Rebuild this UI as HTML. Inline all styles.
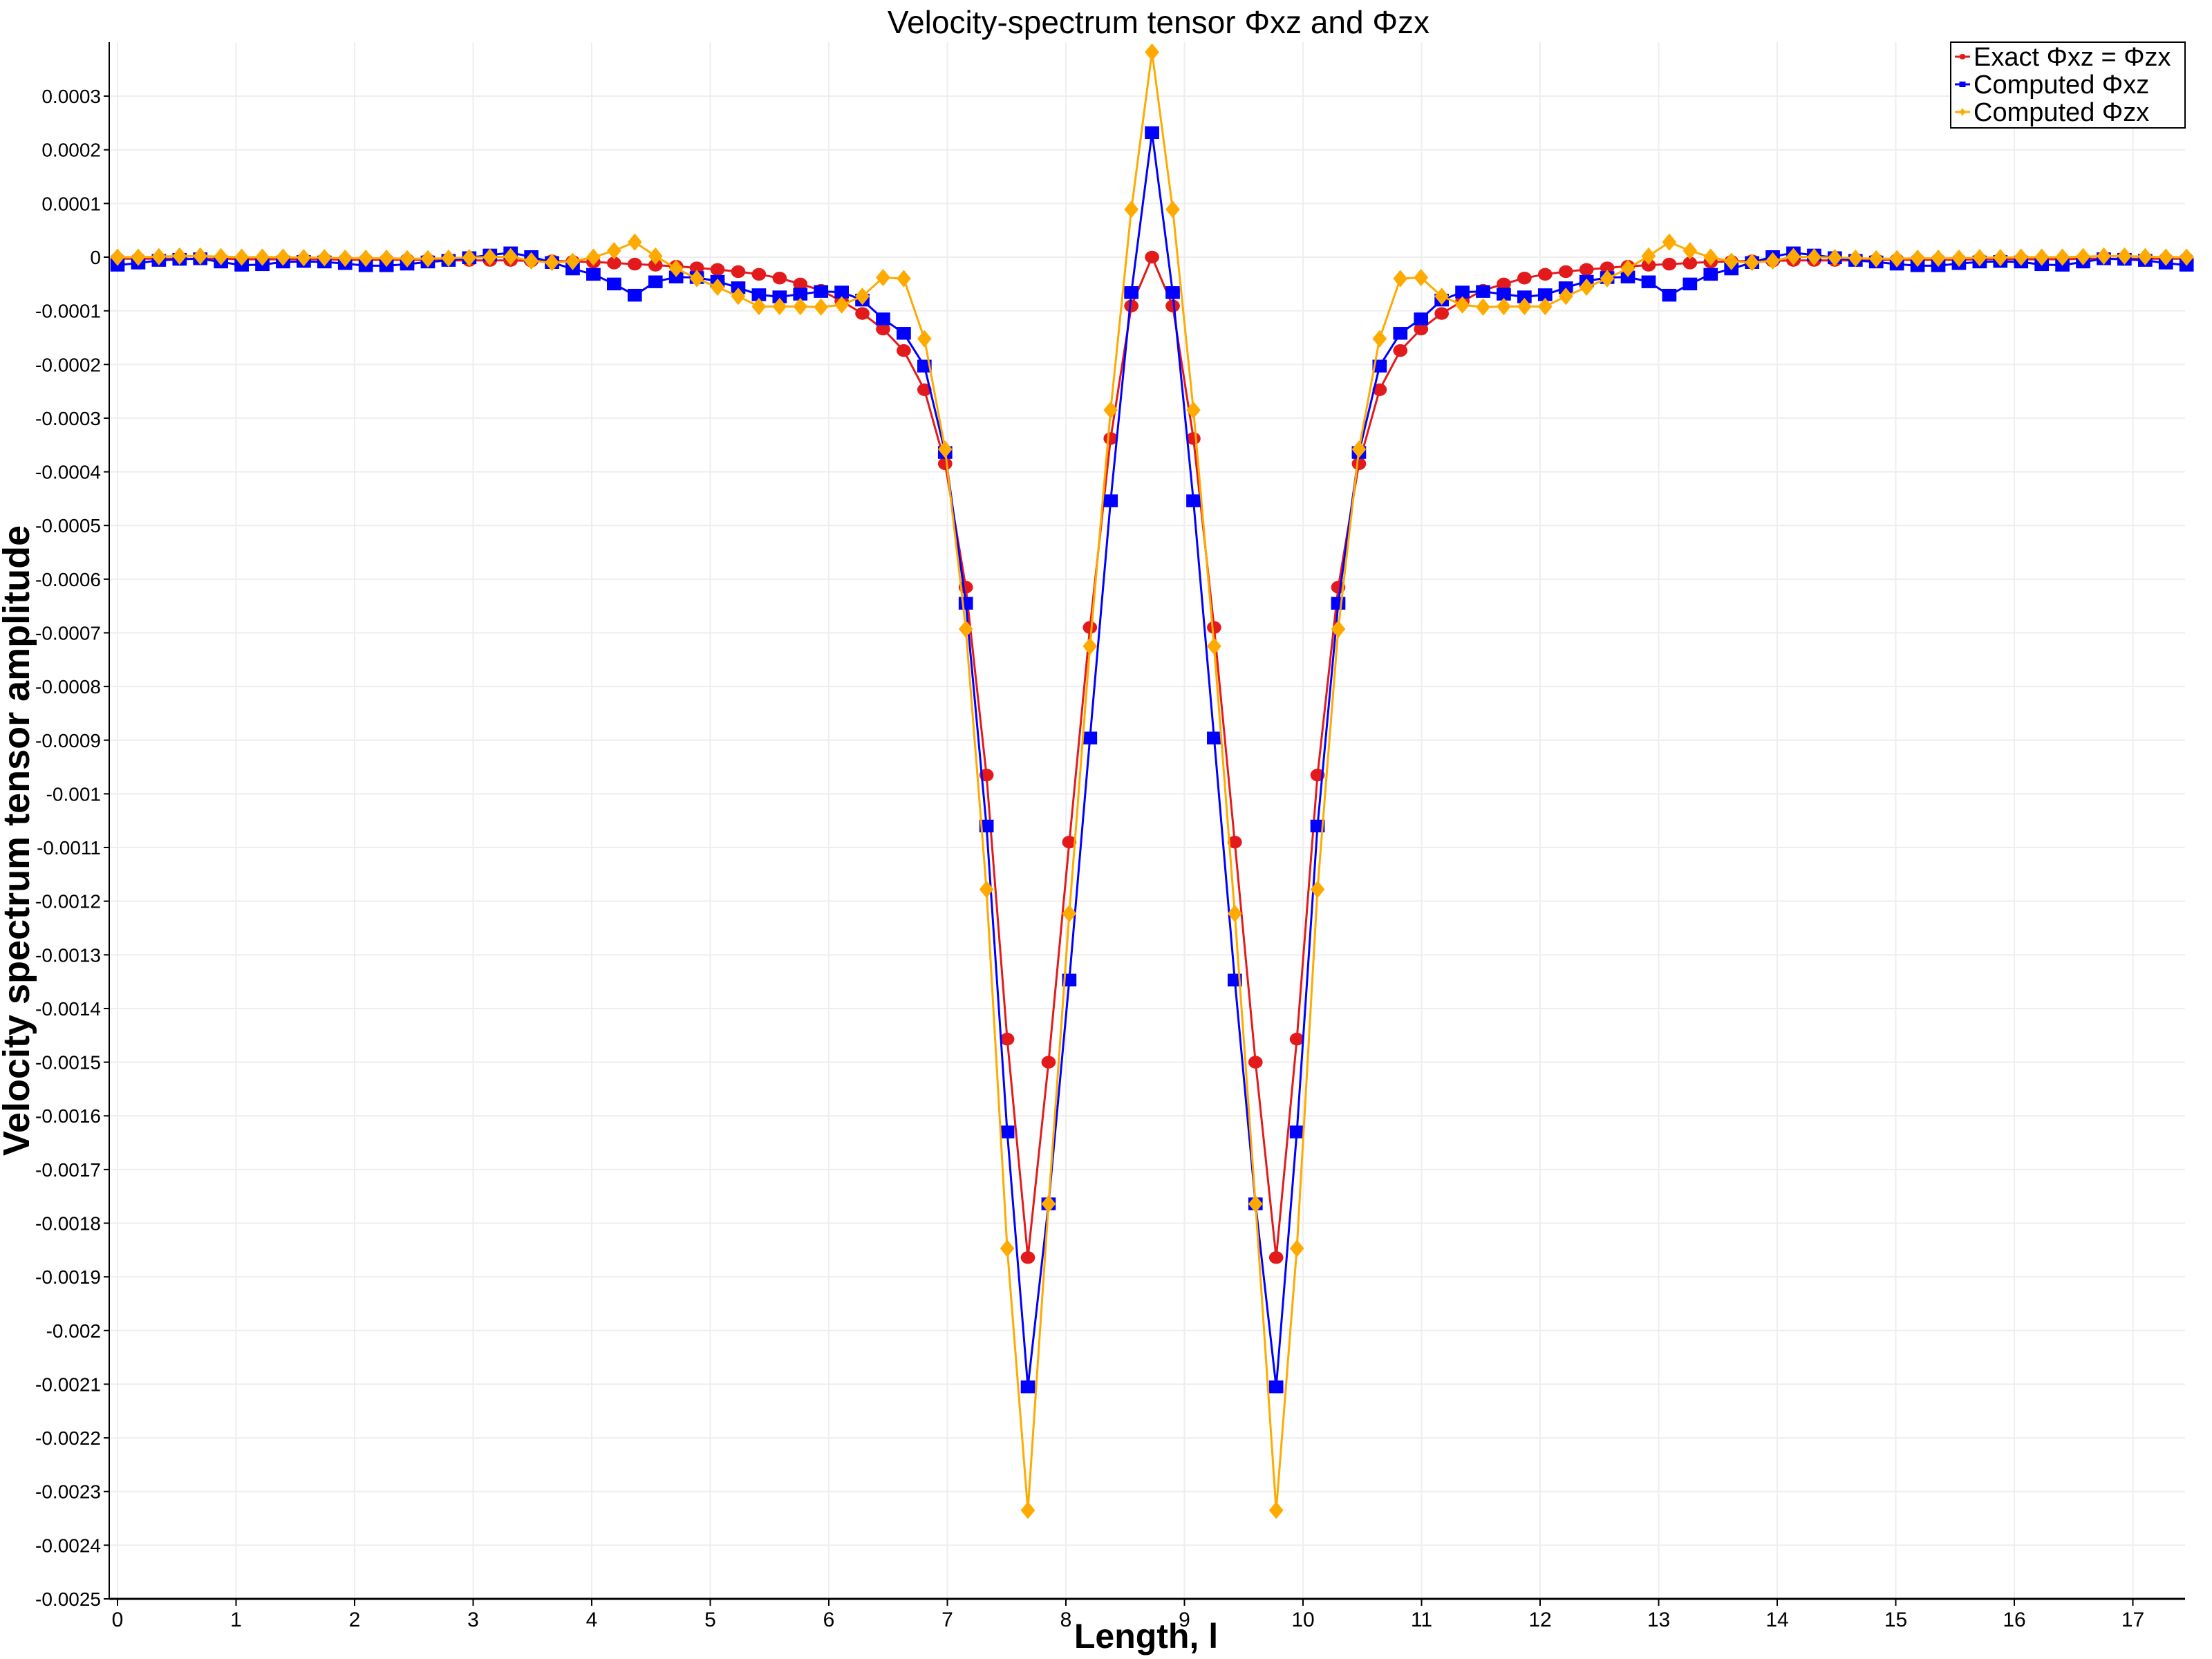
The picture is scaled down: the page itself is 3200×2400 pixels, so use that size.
<!DOCTYPE html>
<html><head><meta charset="utf-8"><style>
html,body{margin:0;padding:0;background:#fff;}
svg{display:block;font-family:"Liberation Sans",sans-serif;}
</style></head><body>
<svg id="chart" width="3200" height="2400" viewBox="0 0 3200 2400" xmlns="http://www.w3.org/2000/svg">
<rect width="3200" height="2400" fill="#fff"/>
<text x="1676" y="48" font-size="46" text-anchor="middle" fill="#000">Velocity-spectrum tensor Φxz and Φzx</text>
<text transform="translate(42,1216) rotate(-90)" font-size="54" font-weight="bold" text-anchor="middle" fill="#000">Velocity spectrum tensor amplitude</text>
<text x="1658" y="2384" font-size="50" font-weight="bold" text-anchor="middle" fill="#000">Length, l</text>
<g id="grid"></g>
<g id="axes"></g>
<g id="series"></g>
<g id="legend"></g>
</svg>
<script>
const xStep = 0.17453;
const xTicks = [0,1,2,3,4,5,6,7,8,9,10,11,12,13,14,15,16,17];
const yTicks = [0.0003,0.0002,0.0001,0,-0.0001,-0.0002,-0.0003,-0.0004,-0.0005,-0.0006,-0.0007,-0.0008,-0.0009,-0.001,-0.0011,-0.0012,-0.0013,-0.0014,-0.0015,-0.0016,-0.0017,-0.0018,-0.0019,-0.002,-0.0021,-0.0022,-0.0023,-0.0024,-0.0025];
const yTickLabels = ["0.0003","0.0002","0.0001","0","-0.0001","-0.0002","-0.0003","-0.0004","-0.0005","-0.0006","-0.0007","-0.0008","-0.0009","-0.001","-0.0011","-0.0012","-0.0013","-0.0014","-0.0015","-0.0016","-0.0017","-0.0018","-0.0019","-0.002","-0.0021","-0.0022","-0.0023","-0.0024","-0.0025"];
const exactVals = [-3e-6,-3e-6,-3e-6,-3e-6,-3e-6,-3e-6,-4e-6,-4e-6,-4e-6,-4e-6,-4e-6,-5e-6,-5e-6,-5e-6,-5e-6,-5e-6,-6e-6,-6e-6,-6e-6,-6e-6,-7e-6,-7e-6,-8e-6,-9e-6,-1.1e-5,-1.3e-5,-1.5e-5,-1.7e-5,-2e-5,-2.3e-5,-2.7e-5,-3.2e-5,-3.9e-5,-5e-5,-6.2e-5,-8.2e-5,-1.05e-4,-1.34e-4,-1.74e-4,-2.47e-4,-3.85e-4,-6.15e-4,-9.65e-4,-1.457e-3,-1.864e-3,-1.5e-3,-1.09e-3,-6.9e-4,-3.38e-4,-9.1e-5,0,
-9.1e-5,-3.38e-4,-6.9e-4,-1.09e-3,-1.5e-3,-1.864e-3,-1.457e-3,-9.65e-4,-6.15e-4,-3.85e-4,-2.47e-4,-1.74e-4,-1.34e-4,-1.05e-4,-8.2e-5,-6.2e-5,-5e-5,-3.9e-5,-3.2e-5,-2.7e-5,-2.3e-5,-2e-5,-1.7e-5,-1.5e-5,-1.3e-5,-1.1e-5,-9e-6,-8e-6,-7e-6,-7e-6,-6e-6,-6e-6,-6e-6,-6e-6,-5e-6,-5e-6,-5e-6,-5e-6,-5e-6,-4e-6,-4e-6,-4e-6,-4e-6,-4e-6,-3e-6,-3e-6,-3e-6,-3e-6,-3e-6,-3e-6];
const xzVals = [-1.5e-5,-1.1e-5,-6e-6,-4e-6,-3e-6,-9e-6,-1.5e-5,-1.4e-5,-9e-6,-8e-6,-9e-6,-1.2e-5,-1.6e-5,-1.6e-5,-1.3e-5,-9e-6,-6e-6,-1e-6,4e-6,8e-6,1e-6,-1e-5,-2.2e-5,-3.2e-5,-5e-5,-7.1e-5,-4.6e-5,-3.7e-5,-3.8e-5,-4.5e-5,-5.7e-5,-7e-5,-7.4e-5,-6.9e-5,-6.4e-5,-6.5e-5,-8e-5,-1.15e-4,-1.42e-4,-2.03e-4,-3.64e-4,-6.45e-4,-1.06e-3,-1.63e-3,-2.105e-3,-1.764e-3,-1.347e-3,-8.96e-4,-4.54e-4,-6.6e-5,2.32e-4,
-6.6e-5,-4.54e-4,-8.96e-4,-1.347e-3,-1.764e-3,-2.105e-3,-1.63e-3,-1.06e-3,-6.45e-4,-3.64e-4,-2.03e-4,-1.42e-4,-1.15e-4,-8e-5,-6.5e-5,-6.4e-5,-6.9e-5,-7.4e-5,-7e-5,-5.7e-5,-4.5e-5,-3.8e-5,-3.7e-5,-4.6e-5,-7.1e-5,-5e-5,-3.2e-5,-2.2e-5,-1e-5,1e-6,8e-6,4e-6,-1e-6,-6e-6,-9e-6,-1.3e-5,-1.6e-5,-1.6e-5,-1.2e-5,-9e-6,-8e-6,-9e-6,-1.4e-5,-1.5e-5,-9e-6,-3e-6,-4e-6,-6e-6,-1.1e-5,-1.5e-5];
const zxVals = [0,0,1e-6,2e-6,2e-6,1e-6,0,0,0,-1e-6,-1e-6,-2e-6,-2e-6,-2e-6,-3e-6,-3e-6,-2e-6,-1e-6,0,1e-6,-7e-6,-1e-5,-8e-6,0,1.2e-5,2.8e-5,2e-6,-2.1e-5,-4e-5,-5.6e-5,-7.3e-5,-9.2e-5,-9.2e-5,-9.2e-5,-9.3e-5,-8.9e-5,-7.3e-5,-3.8e-5,-4e-5,-1.52e-4,-3.58e-4,-6.93e-4,-1.178e-3,-1.847e-3,-2.335e-3,-1.764e-3,-1.223e-3,-7.25e-4,-2.85e-4,8.9e-5,3.82e-4,
8.9e-5,-2.85e-4,-7.25e-4,-1.223e-3,-1.764e-3,-2.335e-3,-1.847e-3,-1.178e-3,-6.93e-4,-3.58e-4,-1.52e-4,-4e-5,-3.8e-5,-7.3e-5,-8.9e-5,-9.3e-5,-9.2e-5,-9.2e-5,-9.2e-5,-7.3e-5,-5.6e-5,-4e-5,-2.1e-5,2e-6,2.8e-5,1.2e-5,0,-8e-6,-1e-5,-7e-6,1e-6,0,-1e-6,-2e-6,-3e-6,-3e-6,-2e-6,-2e-6,-2e-6,-1e-6,-1e-6,0,0,0,1e-6,2e-6,2e-6,1e-6,0,0];
const legendLabels = ["Exact Φxz = Φzx","Computed Φxz","Computed Φzx"];

const NS = "http://www.w3.org/2000/svg";
const PL = 158, PR = 3161, PT = 61, PB = 2313;
const X0 = 170, XU = 171.5;
const Y0 = 372, YU = 77.64 / 0.0001;
function xs(v){ return X0 + v * XU; }
function ys(v){ return Y0 - v * YU; }
function mk(tag, attrs, parent){ const e = document.createElementNS(NS, tag); for (const k in attrs) e.setAttribute(k, attrs[k]); parent.appendChild(e); return e; }

const grid = document.getElementById('grid');
const axes = document.getElementById('axes');
xTicks.forEach((t,i)=>{
  const g = mk('line',{x1:xs(t),x2:xs(t),y1:PT,y2:PB,stroke:'#eeeeee','stroke-width':2},grid);
  
  
  const tk = mk('line',{x1:xs(t),x2:xs(t),y1:PB,y2:PB+10,stroke:'#000','stroke-width':2},axes);
  
  
  const tl = mk('text',{x:xs(t),y:PB+40,'font-size':30,'text-anchor':'middle',fill:'#000'},axes);
  tl.textContent = String(t);
  
  
});
yTicks.forEach((t,i)=>{
  const g = mk('line',{x1:PL,x2:PR,y1:ys(t),y2:ys(t),stroke:'#eeeeee','stroke-width':2},grid);
  
  
  const tk = mk('line',{x1:PL-8,x2:PL,y1:ys(t),y2:ys(t),stroke:'#000','stroke-width':2},axes);
  
  
  const tl = mk('text',{x:PL-12,y:ys(t)+10,'font-size':28,'text-anchor':'end',fill:'#000'},axes);
  tl.textContent = yTickLabels[i];
  
  
});
const ax1 = mk('line',{x1:PL,x2:PL,y1:PT,y2:PB,stroke:'#000','stroke-width':2},axes);


const ax2 = mk('line',{x1:PL,x2:PR,y1:PB,y2:PB,stroke:'#000','stroke-width':3},axes);



function marker(kind, cx, cy, color, parent, s){
  let e;
  if (kind==='circle') e = mk('ellipse',{cx:cx,cy:cy,rx:9*s,ry:8*s,fill:color},parent);
  else if (kind==='square') e = mk('rect',{x:cx-9*s,y:cy-8*s,width:18*s,height:16*s,fill:color},parent);
  else e = mk('polygon',{points:`${cx},${cy-11*s} ${cx+9*s},${cy} ${cx},${cy+11*s} ${cx-9*s},${cy}`,fill:color},parent);
  return e;
}
const series = document.getElementById('series');
const defs = [
  {vals:exactVals, color:'#e31a1c', kind:'circle', name:'exact'},
  {vals:xzVals, color:'#0000ff', kind:'square', name:'computed-xz'},
  {vals:zxVals, color:'#ffaa00', kind:'diamond', name:'computed-zx'}
];
defs.forEach(d=>{
  const g = mk('g',{},series);
  
  
  const pts = d.vals.map((v,i)=>xs(i*xStep).toFixed(1)+','+ys(v).toFixed(1)).join(' ');
  const pl = mk('polyline',{points:pts,fill:'none',stroke:d.color,'stroke-width':3,'stroke-linejoin':'round'},g);
  
  
  d.vals.forEach((v,i)=>{
    const m = marker(d.kind, xs(i*xStep), ys(v), d.color, g, 1.15);
    
    
  });
});

const lg = document.getElementById('legend');
const box = mk('rect',{x:2822,y:61,width:339,height:124,fill:'#fff',stroke:'#000','stroke-width':2},lg);


legendLabels.forEach((lab,i)=>{
  const cy = 82 + i*40;
  const d = defs[i];
  const g = mk('g',{},lg);
  
  
  mk('line',{x1:2828,x2:2850,y1:cy,y2:cy,stroke:d.color,'stroke-width':3},g);
  marker(d.kind, 2839, cy, d.color, g, 0.5);
  const t = mk('text',{x:2855,y:cy+13,'font-size':38,fill:'#000'},g);
  t.textContent = lab;
  
  
});
</script>
</body></html>
